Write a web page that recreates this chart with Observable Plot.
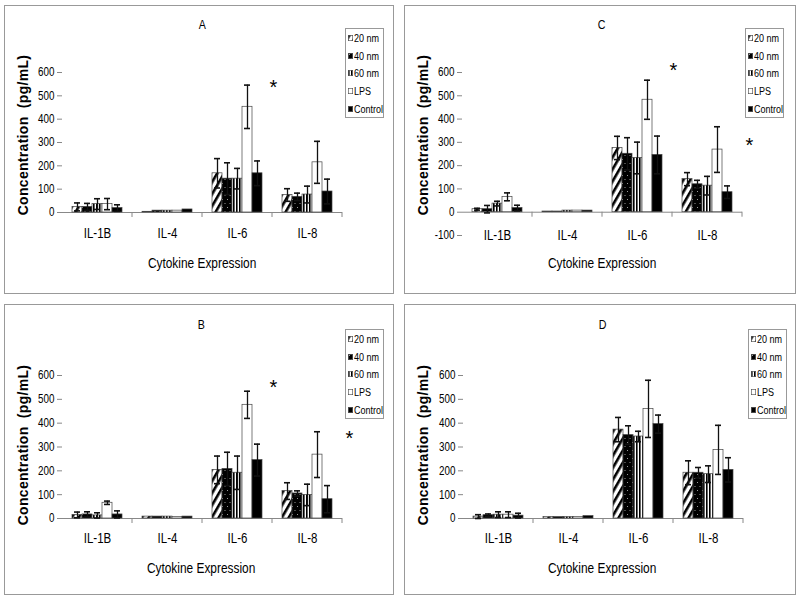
<!DOCTYPE html>
<html><head><meta charset="utf-8">
<script src="https://cdn.jsdelivr.net/npm/d3@7"></script>
<script src="https://cdn.jsdelivr.net/npm/@observablehq/plot@0.6"></script>
<style>
body{margin:0;background:#fff;width:800px;height:604px;position:relative;overflow:hidden;font-family:"Liberation Sans",Arial,sans-serif;color:#000;}
.panel{position:absolute;border:1px solid #999;background:#fff;}
.panel .plotwrap{position:absolute;left:0;top:0;}
.ttl,.xt{position:absolute;text-align:center;line-height:16px;white-space:nowrap;}
.ttl span,.xt span{display:inline-block;transform:scaleX(0.82);transform-origin:50% 50%;}
.ttl{font-size:13px;}
.xt{font-size:14.5px;}
.yt{position:absolute;width:220px;height:18px;line-height:18px;text-align:center;font-weight:bold;font-size:14px;letter-spacing:0.3px;transform:rotate(-90deg);white-space:pre;}
.leg{position:absolute;border:1px solid #999;background:#fff;box-sizing:border-box;font-size:11px;overflow:hidden;}
.leg .row{display:flex;align-items:center;height:17.8px;white-space:nowrap;}
.leg svg{margin-left:2px;margin-right:1px;flex:none;}
.leg span{display:inline-block;transform:scaleX(0.82);transform-origin:0 50%;}
</style></head>
<body>
<svg width="0" height="0" style="position:absolute;left:0;top:0">
<defs>
<pattern id="p20" patternUnits="userSpaceOnUse" width="6" height="6" patternTransform="rotate(30)">
<rect width="6" height="6" fill="#fff"/><rect width="2.6" height="6" fill="#000"/>
</pattern>
<pattern id="p40" patternUnits="userSpaceOnUse" width="5" height="8">
<rect width="5" height="8" fill="#000"/><rect x="1" y="1" width="1" height="1" fill="#999"/><rect x="3.5" y="5" width="1" height="1" fill="#999"/>
</pattern>
<pattern id="p60" patternUnits="userSpaceOnUse" width="3" height="3">
<rect width="3" height="3" fill="#fff"/><rect width="1.6" height="3" fill="#000"/>
</pattern>
</defs>
</svg>
<script>
// ---------------- data ----------------
const categories = ["IL-1B", "IL-4", "IL-6", "IL-8"];
const seriesNames = ["20 nm", "40 nm", "60 nm", "LPS", "Control"];
const seriesFills = ["url(#p20)", "url(#p40)", "url(#p60)", "#ffffff", "#000000"];
const ticksPos = [0, 100, 200, 300, 400, 500, 600];
const ticksNeg = [-100, 0, 100, 200, 300, 400, 500, 600];
const yTitle = "Concentration  (pg/mL)";
const xTitle = "Cytokine Expression";

// rows = series (20 nm, 40 nm, 60 nm, LPS, Control); columns = categories
const valuesA = [[24, 3, 168, 75], [24, 8, 145, 67], [36, 8, 145, 77], [36, 8, 453, 215], [19, 13, 168, 90]];
const errorsA = [[17, 0, 63, 27], [15, 0, 68, 16], [23, 0, 44, 36], [24, 0, 93, 90], [14, 0, 53, 53]];
const valuesB = [[15, 8, 204, 115], [17, 8, 208, 105], [13, 8, 192, 99], [66, 6, 477, 268], [17, 8, 245, 81]];
const errorsB = [[12, 0, 58, 35], [11, 0, 70, 11], [11, 0, 70, 45], [7, 0, 57, 96], [15, 0, 67, 57]];
const valuesC = [[13, 3, 276, 142], [13, 3, 251, 120], [37, 7, 233, 114], [66, 7, 483, 269], [18, 7, 246, 86]];
const errorsC = [[4, 0, 50, 28], [16, 0, 69, 17], [10, 0, 68, 40], [17, 0, 84, 98], [12, 0, 81, 27]];
const valuesD = [[8, 6, 373, 192], [14, 6, 350, 192], [16, 6, 344, 186], [16, 6, 460, 288], [12, 10, 396, 204]];
const errorsD = [[8, 0, 51, 50], [5, 0, 39, 22], [12, 0, 22, 35], [12, 0, 120, 103], [10, 0, 38, 51]];
// significance markers
const starsA = [{cat: "IL-8", y: 558, side: "left"}];
const starsB = [{cat: "IL-8", y: 571, side: "left"}, {cat: "IL-8", y: 357, side: "right"}];
const starsC = [{cat: "IL-8", y: 630, side: "left"}, {cat: "IL-8", y: 309, side: "right"}];
const starsD = [];

// ---------------- layout ----------------
const panels = [
  {name: "A", values: valuesA, errors: errorsA, stars: starsA, ticks: ticksPos,
   box: [4, 5, 388, 287], m: [66, 50, 81, 56], fxPad: 16, ttlY: 11, xtY: 249, ytY: 129, leg: [340, 22]},
  {name: "C", values: valuesC, errors: errorsC, stars: starsC, ticks: ticksNeg,
   box: [404, 5, 390, 287], m: [66, 52, 58, 56], fxPad: -5, ttlY: 11, xtY: 249, ytY: 129, leg: [340, 22]},
  {name: "B", values: valuesB, errors: errorsB, stars: starsB, ticks: ticksPos,
   box: [4, 304, 388, 289], m: [70, 51, 76, 56], fxPad: 15, ttlY: 12, xtY: 255, ytY: 140, leg: [340, 24]},
  {name: "D", values: valuesD, errors: errorsD, stars: starsD, ticks: ticksPos,
   box: [404, 304, 390, 289], m: [70, 52, 76, 57], fxPad: 15, ttlY: 12, xtY: 255, ytY: 140, leg: [343, 24]}
];

// condense axis text horizontally (Arial Narrow look) around each label's anchor
function narrowSvgText(svg) {
  svg.querySelectorAll("text").forEach(t => {
    if (t.closest('[aria-label="text"]')) return;
    const tr = t.getAttribute("transform");
    if (tr) t.setAttribute("transform", `${tr} scale(0.82,1)`);
  });
}

function textDiv(cls, str, style) {
  const d = document.createElement("div");
  d.className = cls;
  const s = document.createElement("span");
  s.textContent = str;
  d.appendChild(s);
  Object.assign(d.style, style);
  return d;
}

function drawPanel(p) {
  const [left, top, w, h] = p.box;
  const [mT, mR, mB, mL] = p.m;
  const div = document.createElement("div");
  div.className = "panel";
  Object.assign(div.style, {left: left + "px", top: top + "px", width: w + "px", height: h + "px"});
  document.body.appendChild(div);

  const rows = [];
  p.values.forEach((r, si) => r.forEach((v, ci) =>
    rows.push({cat: categories[ci], s: seriesNames[si], v, e: p.errors[si][ci]})));
  const err = rows.filter(d => d.e > 0);
  const y0 = p.ticks[0], y1 = p.ticks[p.ticks.length - 1];

  const marks = [
    Plot.ruleY([0], {stroke: "#888", strokeWidth: 1}),
    (index, scales, values, dim) => {
      const x = dim.width - dim.marginRight;
      const yz = scales.y(0);
      return d3.create("svg:line").attr("x1", x).attr("x2", x).attr("y1", yz).attr("y2", yz + 5)
        .attr("stroke", "#888").node();
    },
    Plot.barY(rows, {fx: "cat", x: "s", y: "v", fill: "s", stroke: "#444", strokeWidth: 0.7}),
    Plot.ruleX(err, {fx: "cat", x: "s", y1: d => d.v - d.e, y2: d => d.v + d.e, stroke: "#111", strokeWidth: 1.3}),
    Plot.tickY(err, {fx: "cat", x: "s", y: d => d.v + d.e, stroke: "#111", strokeWidth: 1.6, insetLeft: 2, insetRight: 2}),
    Plot.tickY(err, {fx: "cat", x: "s", y: d => d.v - d.e, stroke: "#111", strokeWidth: 1.6, insetLeft: 2, insetRight: 2}),
    Plot.axisY({ticks: p.ticks, tickSize: 5, tickPadding: 3, line: true, stroke: "#888", label: null,
      tickFormat: d => String(d), fontSize: 12}),
    Plot.axisFx({anchor: "bottom", tickSize: 0, tickPadding: p.fxPad, label: null, fontSize: 14})
  ];
  for (const st of p.stars) {
    marks.push(Plot.text([st], {fx: "cat", y: "y", text: () => "*", frameAnchor: st.side,
      textAnchor: "middle", dx: st.side === "left" ? 1 : 7, dy: 5, fontSize: 20}));
  }

  const chart = Plot.plot({
    width: w, height: h,
    marginTop: mT, marginRight: mR, marginBottom: mB, marginLeft: mL,
    style: {fontFamily: "'Liberation Sans',Arial,sans-serif", fontSize: "12px", background: "transparent", overflow: "visible"},
    fx: {domain: categories, padding: 0, label: null},
    x: {domain: seriesNames, axis: null, paddingInner: 0, paddingOuter: 0.74},
    y: {domain: [y0, y1], label: null},
    color: {domain: seriesNames, range: seriesFills},
    marks
  });
  narrowSvgText(chart);
  const wrap = document.createElement("div");
  wrap.className = "plotwrap";
  wrap.appendChild(chart);
  div.appendChild(wrap);

  const plotL = mL, plotW = w - mL - mR;
  div.appendChild(textDiv("ttl", p.name, {left: plotL + "px", width: plotW + "px", top: p.ttlY + "px"}));
  div.appendChild(textDiv("xt", xTitle, {left: plotL + "px", width: plotW + "px", top: p.xtY + "px"}));

  const yt = document.createElement("div");
  yt.className = "yt"; yt.textContent = yTitle;
  Object.assign(yt.style, {left: (18 - 110) + "px", top: (p.ytY - 9) + "px"});
  div.appendChild(yt);

  const leg = document.createElement("div");
  leg.className = "leg";
  Object.assign(leg.style, {left: p.leg[0] + "px", top: p.leg[1] + "px", width: "39px", height: "90px"});
  seriesNames.forEach((s, i) => {
    const row = document.createElement("div");
    row.className = "row";
    const sw = d3.create("svg").attr("width", 5).attr("height", 6);
    sw.append("rect").attr("x", 0.3).attr("y", 0.3).attr("width", 4.4).attr("height", 5.4)
      .attr("fill", seriesFills[i]).attr("stroke", "#444").attr("stroke-width", 0.6);
    row.appendChild(sw.node());
    const t = document.createElement("span");
    t.textContent = s;
    row.appendChild(t);
    leg.appendChild(row);
  });
  div.appendChild(leg);
}

panels.forEach(drawPanel);
</script>
</body></html>
